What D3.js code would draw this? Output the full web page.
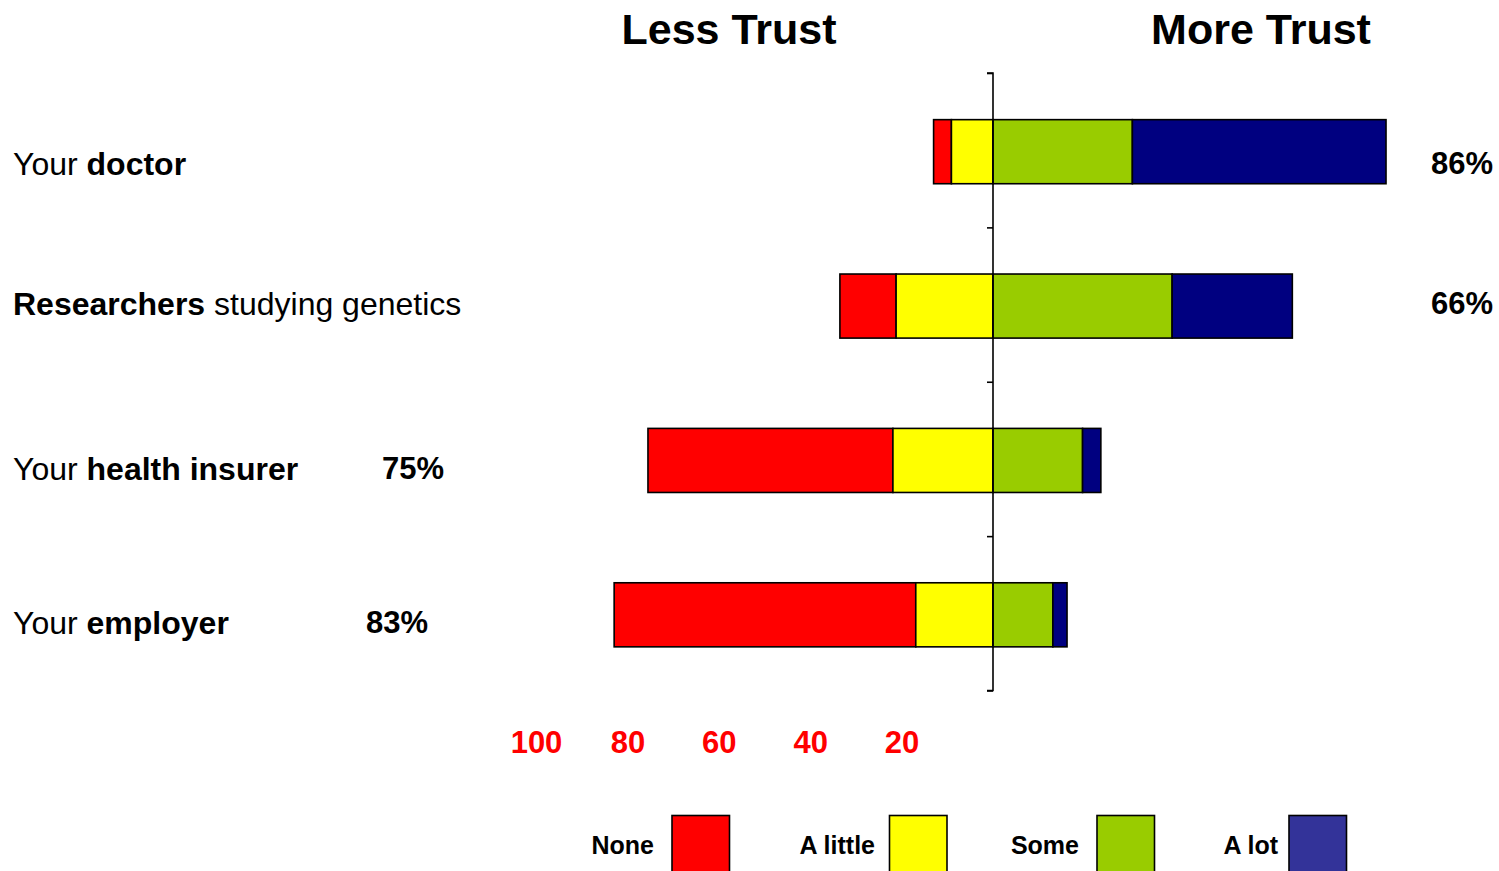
<!DOCTYPE html>
<html>
<head>
<meta charset="utf-8">
<script src="https://cdn.jsdelivr.net/npm/d3@7"></script>
<style>
  html, body { margin: 0; padding: 0; background: #fff; }
  svg { display: block; font-family: "Liberation Sans", Arial, Helvetica, sans-serif; }
</style>
</head>
<body>
<svg id="chart" width="1499" height="871"></svg>
<script>
// ---------------- data ----------------
const categories = ["doctor", "researchers", "insurer", "employer"];
const labelPlain = ["Your ", "", "Your ", "Your "];
const labelBold  = ["doctor", "Researchers", "health insurer", "employer"];
const labelTail  = ["", " studying genetics", "", ""];

const none    = [3.9, 12.3, 53.6, 66.0];
const aLittle = [9.1, 21.2, 21.9, 16.9];
const some    = [30.5, 39.2, 19.6, 13.1];
const aLot    = [55.5, 26.3, 4.0, 3.1];

const pctLabels = ["86%", "66%", "75%", "83%"];
const tickValues = [-100, -80, -60, -40, -20];
const titles = ["Less Trust", "More Trust"];
const legendLabels = ["None", "A little", "Some", "A lot"];

// ---------------- layout / style ----------------
const W = 1499, H = 871;
const barColors = ["#FF0000", "#FFFF00", "#99CC00", "#000080"];
const legendColors = ["#FF0000", "#FFFF00", "#99CC00", "#333399"];
const labelDy = [23, 9, 20, 19];
const pctX = [1493, 1493, 444, 428];
const titleX = [729, 1261];
const legendBoxX = [672, 889.5, 1097, 1289];
const legendTextX = [654, 875, 1079, 1278];

const svg = d3.select("#chart");
svg.append("rect").attr("width", W).attr("height", H).attr("fill", "#fff");

const x = d3.scaleLinear().domain([-100, 100]).range([536, 1450]);
const axisTop = 73, axisBottom = 690.5;
const y = d3.scaleBand().domain(categories).range([axisTop, axisBottom])
  .paddingInner(0.585).paddingOuter(0.2925);
const barShift = 1.5;

// build stacked segments
const segs = [];
categories.forEach((c, i) => {
  const l1 = -aLittle[i], l0 = -(aLittle[i] + none[i]);
  segs.push({c, x0: l0, x1: l1, k: 0});
  segs.push({c, x0: l1, x1: 0, k: 1});
  segs.push({c, x0: 0, x1: some[i], k: 2});
  segs.push({c, x0: some[i], x1: some[i] + aLot[i], k: 3});
});

svg.append("g").selectAll("rect").data(segs).join("rect")
  .attr("x", d => x(d.x0))
  .attr("y", d => y(d.c) + barShift)
  .attr("width", d => x(d.x1) - x(d.x0))
  .attr("height", y.bandwidth())
  .attr("fill", d => barColors[d.k])
  .attr("stroke", "#000")
  .attr("stroke-width", 1.6);

// center axis with ticks at band boundaries
const yb = d3.scaleLinear().domain([0, categories.length]).range([axisTop, axisBottom]);
const ax = svg.append("g").attr("transform", `translate(${x(0)},0)`)
  .call(d3.axisLeft(yb).tickValues(d3.range(categories.length + 1)).tickSize(6).tickFormat(""));
ax.select(".domain").attr("stroke", "#000").attr("stroke-width", 1.6).attr("d", `M-6,${axisTop}H0V${axisBottom}H-6`);
ax.selectAll(".tick line").attr("stroke", "#000").attr("stroke-width", 1.6);

// bottom tick labels (red)
const bx = svg.append("g").attr("transform", "translate(0,753)")
  .call(d3.axisBottom(x).tickValues(tickValues).tickSize(0).tickPadding(0).tickFormat(d => Math.abs(d)));
bx.select(".domain").remove();
bx.selectAll("text")
  .attr("dy", 0).attr("y", 0)
  .attr("fill", "#FF0000")
  .attr("font-size", 31).attr("font-weight", "bold")
  .attr("font-family", "'Liberation Sans', Arial, sans-serif");

// titles
svg.append("g").selectAll("text").data(titles).join("text")
  .attr("x", (d, i) => titleX[i])
  .attr("y", 44)
  .attr("text-anchor", "middle")
  .attr("font-size", 43).attr("font-weight", "bold")
  .text(d => d);

// category labels
const lab = svg.append("g").selectAll("text").data(categories).join("text")
  .attr("x", 13)
  .attr("y", (d, i) => y(d) + barShift + y.bandwidth() / 2 + labelDy[i])
  .attr("font-size", 32)
  .attr("fill", "#000");
lab.each(function(d, i) {
  const t = d3.select(this);
  if (labelPlain[i]) t.append("tspan").text(labelPlain[i]);
  t.append("tspan").attr("font-weight", "bold").text(labelBold[i]);
  if (labelTail[i]) t.append("tspan").text(labelTail[i]);
});

// percent labels
svg.append("g").selectAll("text").data(categories).join("text")
  .attr("x", (d, i) => pctX[i])
  .attr("y", (d, i) => y(d) + barShift + y.bandwidth() / 2 + labelDy[i] - 1)
  .attr("text-anchor", "end")
  .attr("font-size", 31).attr("font-weight", "bold")
  .text((d, i) => pctLabels[i]);

// legend
const lg = svg.append("g");
legendLabels.forEach((name, i) => {
  lg.append("text")
    .attr("x", legendTextX[i]).attr("y", 854)
    .attr("text-anchor", "end")
    .attr("font-size", 25).attr("font-weight", "bold")
    .text(name);
  lg.append("rect")
    .attr("x", legendBoxX[i]).attr("y", 815.5)
    .attr("width", 57.5).attr("height", 58)
    .attr("fill", legendColors[i])
    .attr("stroke", "#000").attr("stroke-width", 1.6);
});
</script>
</body>
</html>
